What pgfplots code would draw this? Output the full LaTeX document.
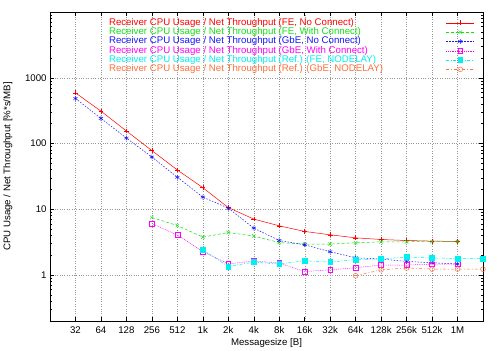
\documentclass[border=0pt]{standalone}
\usepackage{pgfplots}
\pgfplotsset{compat=1.18}
\usepackage{fontspec}
\setmainfont{Liberation Sans}

\definecolor{gpred}{RGB}{255,0,0}
\definecolor{gpgreen}{RGB}{20,225,20}
\definecolor{gpblue}{RGB}{20,20,255}
\definecolor{gpmag}{RGB}{255,0,255}
\definecolor{gpcyan}{RGB}{0,240,240}
\definecolor{gporange}{RGB}{255,110,60}
\definecolor{gpgrid}{RGB}{150,150,150}

\newcommand{\lbl}[2]{\makebox[337bp][l]{\textcolor{#1}{#2}}}

\begin{document}
\fontsize{9.7}{11}\selectfont
\begin{tikzpicture}
\begin{axis}[
    scale only axis,
    width=433bp, height=309bp,
    xmin=4, xmax=21,
    ymode=log, ymin=0.2, ymax=10000,
    xtick={5,...,20},
    xticklabels={32,64,128,256,512,1k,2k,4k,8k,16k,32k,64k,128k,256k,512k,1M},
    ytick={1,10,100,1000},
    yticklabels={1,10,100,1000},
    minor ytick={0.2,0.3,0.4,0.5,0.6,0.7,0.8,0.9,2,3,4,5,6,7,8,9,20,30,40,50,60,70,80,90,200,300,400,500,600,700,800,900,2000,3000,4000,5000,6000,7000,8000,9000},
    tick align=inside,
    major tick length=4bp, minor tick length=2.5bp,
    tick style={black, line width=0.5pt},
    grid=major,
    grid style={gpgrid, dotted, line width=0.4pt},
    axis line style={black, line width=0.8pt},
    /pgf/number format/assume math mode=true,
    ticklabel style={font=\fontsize{9.7}{11}\selectfont},
    xticklabel style={yshift=-2bp},
    xlabel={Messagesize [B]},
    ylabel={CPU Usage / Net Throughput [\%*s/MB]},
    xlabel style={at={(axis description cs:0.5,-0.071)}, anchor=center},
    ylabel style={at={(axis description cs:-0.097,0.5)}, anchor=center},
    legend cell align=left,
    legend plot pos=right,
    legend style={draw=none, fill=none, at={(0.129,0.987)}, anchor=north west,
        font=\fontsize{9.7}{11}\selectfont,
        nodes={inner sep=0pt, text height=7.0bp, text depth=2.3bp},
        row sep=0pt, column sep=0pt},
    legend image code/.code={\draw[mark repeat=2,mark phase=2,#1] plot coordinates {(0bp,0bp) (14bp,0bp) (28bp,0bp)};},
    every axis plot/.append style={line width=0.5pt, mark size=2.4bp},
]
% FE, No Connect
\addplot[gpred, solid, mark=+, mark options={solid, draw=gpred}] coordinates {
    (5,590) (6,311) (7,155) (8,78) (9,39.6) (10,21.3) (11,10.6) (12,7.1)
    (13,5.6) (14,4.6) (15,4.09) (16,3.68) (17,3.47) (18,3.35) (19,3.28) (20,3.24)
};
\addlegendentry{\lbl{gpred}{Receiver CPU Usage / Net Throughput (FE, No Connect)}}
% FE, With Connect
\addplot[gpgreen, dash pattern=on 3bp off 2bp, mark=x, mark options={solid, draw=gpgreen}] coordinates {
    (8,7.5) (9,5.66) (10,3.77) (11,4.43) (12,3.91) (13,3.12) (14,2.95) (15,2.95)
    (16,3.09) (17,3.2) (18,3.2) (19,3.24) (20,3.24)
};
\addlegendentry{\lbl{gpgreen}{Receiver CPU Usage / Net Throughput (FE, With Connect)}}
% GbE, No Connect
\addplot[gpblue, dash pattern=on 1.5bp off 1.5bp, mark=asterisk, mark options={solid, draw=gpblue}] coordinates {
    (5,485) (6,241) (7,121) (8,62.4) (9,30.7) (10,15.3) (11,10.4) (12,5.17)
    (13,3.35) (14,2.88) (15,2.26) (16,1.83) (17,1.75) (18,1.61) (19,1.54) (20,1.47)
};
\addlegendentry{\lbl{gpblue}{Receiver CPU Usage / Net Throughput (GbE, No Connect)}}
% GbE, With Connect
\addplot[gpmag, dash pattern=on 0.8bp off 1bp, mark=square, mark options={solid, draw=gpmag}] coordinates {
    (8,6.07) (9,4.05) (10,2.28) (11,1.48) (12,1.63) (13,1.52) (14,1.13) (15,1.20)
    (16,1.29) (17,1.42) (18,1.42) (19,1.46) (20,1.47)
};
\addlegendentry{\lbl{gpmag}{Receiver CPU Usage / Net Throughput (GbE, With Connect)}}
% Ref. FE, NODELAY
\addplot[gpcyan, dash pattern=on 3bp off 1.5bp on 1bp off 1.5bp, mark=square*, mark options={solid, draw=gpcyan, fill=gpcyan}] coordinates {
    (10,2.42) (11,1.35) (12,1.57) (13,1.47) (14,1.65) (15,1.57) (16,1.72)
    (17,1.75) (18,1.88) (19,1.81) (20,1.79) (21,1.79)
};
\addlegendentry{\lbl{gpcyan}{Receiver CPU Usage / Net Throughput (Ref.) (FE, NODELAY)}}
% Ref. GbE, NODELAY
\addplot[gporange, dash pattern=on 3bp off 2bp on 1bp off 2bp, mark=o, mark options={solid, draw=gporange}] coordinates {
    (16,0.975) (17,1.2) (18,1.28) (19,1.23) (20,1.23) (21,1.23)
};
\addlegendentry{\lbl{gporange}{Receiver CPU Usage / Net Throughput (Ref.) (GbE, NODELAY)}}
\end{axis}
\path[use as bounding box] ([xshift=-50bp,yshift=-29bp]current axis.south west)
    rectangle ([xshift=17bp,yshift=12bp]current axis.north east);
\end{tikzpicture}
\end{document}
